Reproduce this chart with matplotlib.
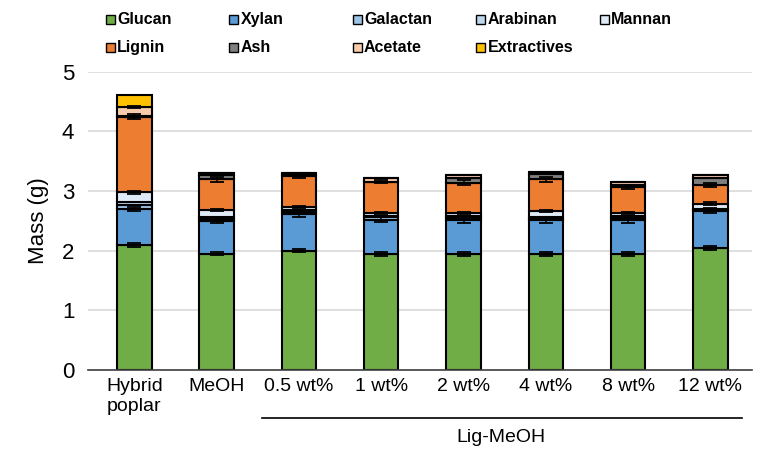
import numpy as np
import matplotlib.pyplot as plt
from matplotlib.patches import Rectangle
from matplotlib.transforms import blended_transform_factory

plt.rcParams['font.family'] = ['Liberation Sans', 'DejaVu Sans']

#sample names along the x axis
categories = ["Hybrid\npoplar", "MeOH", "0.5 wt%", "1 wt%", "2 wt%", "4 wt%", "8 wt%", "12 wt%"]

#mass of each component (g)
glucan = [2.10, 1.95, 2.00, 1.94, 1.94, 1.94, 1.94, 2.05]
xylan = [0.60, 0.55, 0.61, 0.58, 0.57, 0.57, 0.57, 0.62]
galactan = [0.06, 0.03, 0.04, 0.04, 0.04, 0.03, 0.04, 0.02]
arabinan = [0.06, 0.04, 0.04, 0.03, 0.04, 0.02, 0.04, 0.01]
mannan = [0.16, 0.11, 0.04, 0.04, 0.04, 0.11, 0.04, 0.09]
lignin = [1.27, 0.52, 0.53, 0.53, 0.51, 0.53, 0.44, 0.31]
ash = [0.01, 0.07, 0.02, 0.00, 0.08, 0.08, 0.04, 0.12]
acetate = [0.15, 0.04, 0.03, 0.06, 0.05, 0.04, 0.05, 0.05]
extractives = [0.21, 0.00, 0.00, 0.00, 0.00, 0.00, 0.00, 0.00]

#standard deviations
glucan_err = [0.03, 0.03, 0.03, 0.03, 0.03, 0.03, 0.03, 0.03]
xylan_err = [0.04, 0.04, 0.04, 0.04, 0.04, 0.04, 0.04, 0.04]
mannan_err = [0.03, 0.02, 0.02, 0.02, 0.02, 0.02, 0.02, 0.02]
lignin_err = [0.04, 0.04, 0.04, 0.03, 0.04, 0.04, 0.04, 0.03]
acetate_err = [0.02, 0.00, 0.00, 0.00, 0.00, 0.00, 0.00, 0.00]
ash_err = [0.00, 0.00, 0.00, 0.00, 0.00, 0.00, 0.00, 0.00]

names = ["Glucan", "Xylan", "Galactan", "Arabinan", "Mannan",
         "Lignin", "Ash", "Acetate", "Extractives"]
colors = ["#70AD47", "#5B9BD5", "#9DC3E6", "#BDD7EE", "#DEEBF7",
          "#ED7D31", "#7F7F7F", "#F8CBAD", "#FFC000"]

components = [glucan, xylan, galactan, arabinan, mannan, lignin, ash, acetate, extractives]
errors = [glucan_err, xylan_err, None, None, mannan_err, lignin_err, ash_err, acetate_err, None]

fig = plt.figure(figsize=(7.6, 4.55), dpi=100)
ax = fig.add_axes([0.116, 0.187, 0.873, 0.655])

x = np.arange(len(categories))
bottom = np.zeros(len(categories))
for vals, err, col in zip(components, errors, colors):
	vals = np.array(vals)
	ax.bar(x, vals, 0.42, bottom=bottom, color=col, edgecolor="black", linewidth=1.5, zorder=2)
	top = bottom + vals
	if err is not None:
		err = np.array(err)
		m = err > 0
		ax.errorbar(x[m], top[m], yerr=err[m], fmt="none", ecolor="black",
			elinewidth=1.1, capsize=5, capthick=1.3, zorder=3)
	bottom = top

ax.set_xlim(-0.56, 7.5)
ax.set_ylim(0, 5)
ax.set_yticks(range(6))
ax.yaxis.grid(True, color="#D9D9D9", linewidth=1.2, zorder=0)
ax.set_axisbelow(True)
for s in ["top", "right", "left"]:
	ax.spines[s].set_visible(False)
ax.spines["bottom"].set_color("#404040")
ax.spines["bottom"].set_linewidth(1.2)
ax.tick_params(axis="both", length=0, labelsize=16, pad=10)
ax.set_xticks(x)
ax.set_xticklabels(categories, fontsize=14, linespacing=1.2)
ax.tick_params(axis="x", pad=6)
ax.set_ylabel("Mass (g)", fontsize=16, labelpad=9)

#bracket for the lignin-methanol samples
trans = blended_transform_factory(ax.transData, ax.transAxes)
ax.plot([1.55, 7.38], [-0.161, -0.161], color="black", linewidth=1.2,
	transform=trans, clip_on=False)
ax.text(4.46, -0.228, "Lig-MeOH", transform=trans, ha="center", va="center", fontsize=14)

#legend laid out in two rows of five columns
for i, (name, col) in enumerate(zip(names, colors)):
	row, c = divmod(i, 5)
	lx = 0.139 + c * 0.1625
	ly = 0.958 - row * 0.062
	fig.patches.append(Rectangle((lx, ly - 0.011), 0.012, 0.02, transform=fig.transFigure,
		facecolor=col, edgecolor="black", linewidth=1.0))
	fig.text(lx + 0.015, ly, name, fontsize=11.5, fontweight="bold", va="center", ha="left")

fig.savefig("out.png", dpi=100)
